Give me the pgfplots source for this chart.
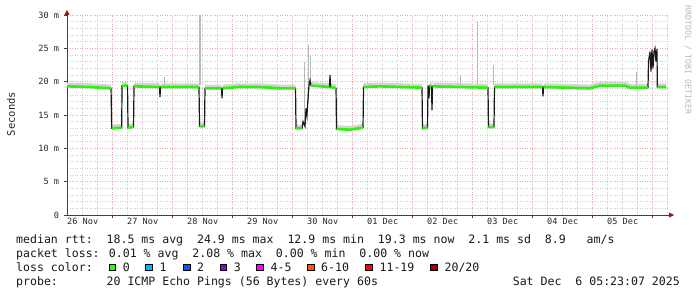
\documentclass[border=0pt]{standalone}
\usepackage{fontspec}
\setmainfont{DejaVu Sans Mono}
\setmonofont{DejaVu Sans Mono}
\usepackage{pgfplots}
\usepackage{pgfplotstable}
\pgfplotsset{compat=1.18}
\usetikzlibrary{arrows.meta}
\definecolor{lc0}{HTML}{26FF00}
\definecolor{lc1}{HTML}{00B8FF}
\definecolor{lc2}{HTML}{0059FF}
\definecolor{lc3}{HTML}{7E00FF}
\definecolor{lc4}{HTML}{FF00FF}
\definecolor{lc6}{HTML}{FF5500}
\definecolor{lc11}{HTML}{FF0000}
\definecolor{lc20}{HTML}{A00000}
\definecolor{majgrid}{HTML}{EAA8A8}
\definecolor{mingrid}{HTML}{CCCCCC}
\definecolor{arrowred}{HTML}{A01010}
\definecolor{smoke}{HTML}{D4D4D4}
\definecolor{lossgreen}{HTML}{30F010}

\pgfplotstableread{
x y
0.238 19.3
0.622 19.2
0.972 19.0
0.983 13.0
1.150 13.1
1.155 19.4
1.247 19.4
1.255 13.1
1.347 13.2
1.355 19.3
1.780 19.2
1.788 17.7
1.797 19.2
2.438 19.2
2.447 13.3
2.530 13.3
2.538 19.0
2.813 19.0
2.822 17.5
2.830 19.0
3.100 19.2
3.455 19.2
3.800 19.0
4.047 19.0
4.055 13.0
4.155 13.0
4.172 14.0
4.205 13.3
4.222 16.0
4.238 15.0
4.255 17.5
4.272 19.5
4.288 20.2
4.305 19.4
4.613 19.2
4.622 21.0
4.630 19.2
4.722 19.0
4.730 12.9
4.955 12.8
5.172 13.1
5.180 19.2
5.455 19.3
6.155 19.1
6.163 13.0
6.247 13.1
6.255 19.4
6.272 17.5
6.280 19.4
6.313 19.3
6.322 15.7
6.330 19.3
7.255 19.1
7.263 13.2
7.355 13.2
7.363 19.2
8.163 19.2
8.172 17.8
8.180 19.2
8.955 19.0
9.122 19.4
9.538 19.4
9.622 19.1
9.922 19.1
9.930 23.0
9.955 24.5
9.972 21.5
9.988 24.8
10.005 22.0
10.022 24.5
10.038 25.0
10.055 23.0
10.072 24.9
10.077 19.2
10.222 19.2
}\median

\pgfplotstableread{
x y
0.238 19.3
0.622 19.2
0.972 19.0
nan nan
0.983 13.0
1.150 13.1
nan nan
1.155 19.4
1.247 19.4
nan nan
1.255 13.1
1.347 13.2
nan nan
1.355 19.3
1.780 19.2
nan nan
1.797 19.2
2.438 19.2
nan nan
2.447 13.3
2.530 13.3
nan nan
2.538 19.0
2.813 19.0
nan nan
2.830 19.0
3.100 19.2
3.455 19.2
3.800 19.0
4.047 19.0
nan nan
4.055 13.0
4.155 13.0
nan nan
4.305 19.4
4.613 19.2
nan nan
4.630 19.2
4.722 19.0
nan nan
4.730 12.9
4.955 12.8
5.172 13.1
nan nan
5.180 19.2
5.455 19.3
6.155 19.1
nan nan
6.163 13.0
6.247 13.1
nan nan
6.280 19.4
6.313 19.3
nan nan
6.330 19.3
7.255 19.1
nan nan
7.263 13.2
7.355 13.2
nan nan
7.363 19.2
8.163 19.2
nan nan
8.180 19.2
8.955 19.0
9.122 19.4
9.538 19.4
9.622 19.1
9.922 19.1
nan nan
10.077 19.2
10.222 19.2
}\green

\pgfplotstableread{
x y
2.455 19.5
2.455 30.0
nan nan
4.200 13.5
4.200 23.0
nan nan
4.265 17.0
4.265 25.5
nan nan
4.290 19.5
4.290 24.0
nan nan
7.080 19.5
7.080 29.0
nan nan
7.350 19.5
7.350 22.5
nan nan
6.800 19.5
6.800 21.0
nan nan
1.860 19.5
1.860 20.7
nan nan
9.730 19.2
9.730 21.5
}\spikes

\begin{document}
\begin{tikzpicture}[x=1bp,y=1bp]
\useasboundingbox (0,0) rectangle (697,297);
\begin{axis}[
  at={(67bp,82bp)}, anchor=south west,
  scale only axis, width=602bp, height=200bp,
  xmin=0.238, xmax=10.272, ymin=0, ymax=30,
  axis lines=left,
  axis line style={draw=black!75, line width=0.8bp},
  x axis line style={-{Triangle[length=5bp,width=5bp,color=arrowred]}, shorten >=-5bp},
  y axis line style={-{Triangle[length=5bp,width=5bp,color=arrowred]}, shorten >=-5bp},
  xtick={1,...,10}, xticklabels={},
  extra x ticks={0.5,1.5,...,9.5},
  extra x tick labels={26 Nov,27 Nov,28 Nov,29 Nov,30 Nov,01 Dec,02 Dec,03 Dec,04 Dec,05 Dec},
  extra x tick style={grid=none, major tick length=0pt},
  minor xtick={0.25,0.5,...,10.25},
  ytick={0,5,...,30},
  yticklabels={0,5 m,10 m,15 m,20 m,25 m,30 m},
  minor ytick={1,...,29},
  grid=both,
  major grid style={majgrid, dash pattern=on 1bp off 1.5bp, line width=0.5bp},
  minor grid style={mingrid, dash pattern=on 1bp off 1.5bp, line width=0.5bp},
  tick align=outside,
  major tick length=3bp, minor tick length=0pt,
  tick style={black!75, line width=0.6bp},
  tick label style={font=\fontsize{8.6}{10}\selectfont, text=black!85},
  yticklabel style={xshift=-1.5bp},
  unbounded coords=jump,
  clip=true,
]
\addplot[smoke, line width=4.5bp, yshift=1.5bp] table[x=x,y=y] {\green};
\addplot[gray!55, line width=1.2bp] table[x=x,y=y] {\spikes};
\addplot[black!90, line width=1.2bp] table[x=x,y=y] {\median};
\addplot[lossgreen, line width=2.6bp] table[x=x,y=y] {\green};
\end{axis}

\node[rotate=90, font=\fontsize{10.5}{12}\selectfont, text=black!85] at (11,183) {Seconds};
\node[rotate=-90, anchor=west, font=\fontsize{8.3}{10}\selectfont, text=black!28, inner sep=0] at (688,292) {RRDTOOL / TOBI OETIKER};

\begin{scope}[every node/.style={anchor=base west, inner sep=0, font=\fontsize{11.6}{14}\selectfont, text=black!90}]
\node at (16,54) {median rtt:~~18.5 ms avg~~24.9 ms max~~12.9 ms min~~19.3 ms now~~2.1 ms sd~~8.9~~~am/s};
\node at (16,40) {packet loss: 0.01 \% avg~~2.08 \% max~~0.00 \% min~~0.00 \% now};
\node at (16,26) {loss color:};
\node at (16,12) {probe:~~~~~~~20 ICMP Echo Pings (56 Bytes) every 60s};
\node[anchor=base east] at (680,12) {Sat Dec~~6 05:23:07 2025};
\node at (122.7,26) {0};
\node at (159.5,26) {1};
\node at (197,26) {2};
\node at (233.7,26) {3};
\node at (270.5,26) {4-5};
\node at (321,26) {6-10};
\node at (379.4,26) {11-19};
\node at (444.4,26) {20/20};
\end{scope}
\foreach \bx/\col in {109/lc0,145.7/lc1,183.3/lc2,220/lc3,256.7/lc4,307.3/lc6,365.7/lc11,430.7/lc20}
  \draw[black, line width=0.6bp, fill=\col] (\bx,26.5) rectangle ++(6.7,6.7);
\end{tikzpicture}
\end{document}
